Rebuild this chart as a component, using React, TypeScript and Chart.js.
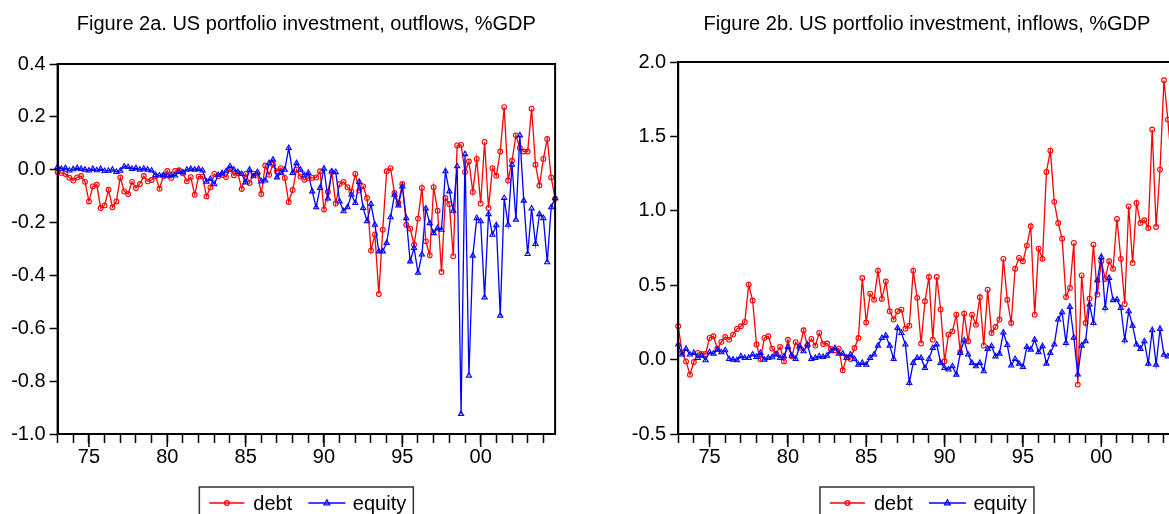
import React, { useEffect, useRef } from 'react';
import { Chart, registerables } from 'chart.js';

Chart.register(...registerables);

// ---------------- data ----------------
const START_YEAR = 1973;
const N_QUARTERS = 128; // 1973Q1 .. 2004Q4
const quarterLabels: string[] = Array.from({ length: N_QUARTERS }, (_, i) => `${START_YEAR + Math.floor(i / 4)}Q${(i % 4) + 1}`);
const yearTickLabels = ['75', '80', '85', '90', '95', '00'];

const outflowsDebt = [
  -0.009, -0.012, -0.016, -0.03, -0.041, -0.029, -0.024, -0.046, -0.12, -0.063,
  -0.057, -0.145, -0.135, -0.076, -0.142, -0.12, -0.029, -0.082, -0.092, -0.046,
  -0.069, -0.054, -0.024, -0.044, -0.039, -0.024, -0.072, -0.024, -0.005, -0.031,
  -0.005, -0.002, -0.014, -0.044, -0.028, -0.095, -0.026, -0.026, -0.101, -0.067,
  -0.016, -0.025, -0.02, -0.028, 0.003, -0.021, -0.012, -0.073, -0.016, -0.05,
  -0.015, -0.014, -0.092, 0.016, -0.019, 0.019, -0.006, 0.006, -0.031, -0.122,
  -0.077, 0.0, -0.026, -0.038, -0.031, -0.031, -0.029, -0.006, -0.151, -0.084,
  -0.009, -0.128, -0.054, -0.046, -0.066, -0.082, -0.016, -0.079, -0.063, -0.107,
  -0.306, -0.245, -0.47, -0.227, -0.006, 0.006, -0.088, -0.126, -0.054, -0.208,
  -0.223, -0.284, -0.185, -0.069, -0.271, -0.324, -0.066, -0.155, -0.387, -0.107,
  -0.13, -0.327, 0.092, 0.094, -0.009, 0.031, -0.084, 0.041, -0.128, 0.105,
  -0.145, 0.006, -0.023, 0.069, 0.237, -0.041, 0.034, 0.13, 0.082, 0.069,
  0.069, 0.231, 0.019, -0.06, 0.041, 0.116, -0.029, -0.11,
];

const outflowsEquity = [
  0.01, 0.003, 0.006, -0.003, 0.002, 0.006, 0.003, 0.0, -0.003, 0.003,
  -0.002, 0.003, -0.005, -0.004, 0.0, -0.008, -0.004, 0.012, 0.01, 0.003,
  0.006, 0.0, 0.004, 0.0, -0.003, -0.02, -0.022, -0.02, -0.025, -0.02,
  -0.022, -0.008, -0.01, 0.0, 0.003, 0.0, 0.003, -0.003, -0.045, -0.035,
  -0.055, -0.02, -0.013, -0.006, 0.013, 0.0, -0.009, -0.016, -0.048, 0.0,
  -0.025, -0.009, -0.044, -0.041, 0.025, 0.038, -0.029, -0.012, 0.0, 0.082,
  -0.012, 0.025, 0.0, -0.021, -0.012, -0.082, -0.142, -0.069, 0.004, -0.109,
  -0.006, -0.009, -0.12, -0.157, -0.142, -0.094, -0.126, -0.046, -0.145, -0.195,
  -0.13, -0.208, -0.309, -0.309, -0.277, -0.18, -0.095, -0.135, -0.063, -0.183,
  -0.347, -0.296, -0.39, -0.321, -0.147, -0.202, -0.24, -0.221, -0.227, -0.006,
  -0.082, -0.155, 0.013, -0.924, 0.059, -0.779, -0.325, -0.183, -0.195, -0.483,
  -0.168, -0.246, -0.21, -0.552, -0.107, -0.208, 0.019, -0.189, 0.13, -0.117,
  -0.319, -0.147, -0.281, -0.168, -0.183, -0.35, -0.142, -0.107,
];

const inflowsDebt = [
  0.224, 0.049, -0.012, -0.101, -0.016, 0.045, 0.038, 0.038, 0.146, 0.157,
  0.074, 0.119, 0.152, 0.134, 0.168, 0.206, 0.224, 0.253, 0.504, 0.397,
  0.101, 0.004, 0.146, 0.157, 0.074, 0.04, 0.085, -0.012, 0.134, 0.022,
  0.117, 0.079, 0.197, 0.094, 0.139, 0.094, 0.179, 0.105, 0.108, 0.072,
  0.063, 0.074, -0.072, 0.015, 0.004, 0.078, 0.145, 0.548, 0.25, 0.443,
  0.403, 0.598, 0.408, 0.526, 0.325, 0.269, 0.325, 0.336, 0.208, 0.228,
  0.598, 0.415, 0.108, 0.392, 0.555, 0.134, 0.555, 0.336, -0.011, 0.168,
  0.19, 0.302, 0.05, 0.309, 0.123, 0.302, 0.235, 0.419, 0.094, 0.47,
  0.179, 0.219, 0.269, 0.677, 0.403, 0.246, 0.611, 0.683, 0.661, 0.766,
  0.896, 0.302, 0.746, 0.677, 1.261, 1.404, 1.06, 0.918, 0.813, 0.421,
  0.482, 0.784, -0.168, 0.566, 0.246, 0.41, 0.773, 0.437, 0.661, 0.542,
  0.661, 0.611, 0.945, 0.677, 0.374, 1.03, 0.649, 1.052, 0.918, 0.936,
  0.885, 1.546, 0.891, 1.277, 1.877, 1.613, 1.3, 1.45,
];

const inflowsEquity = [
  0.101, 0.034, 0.072, 0.034, 0.045, 0.011, 0.027, -0.004, 0.049, 0.04,
  0.067, 0.049, 0.063, 0.004, 0.0, -0.004, 0.022, 0.011, 0.011, 0.034,
  0.018, 0.045, 0.0, 0.011, 0.016, 0.034, 0.011, 0.022, 0.085, 0.027,
  0.004, 0.09, 0.056, 0.101, 0.004, 0.011, 0.022, 0.018, 0.027, 0.056,
  0.078, 0.04, 0.04, 0.011, 0.034, 0.004, -0.034, -0.022, -0.034, 0.011,
  0.034, 0.094, 0.145, 0.161, 0.094, 0.004, 0.213, 0.179, 0.101, -0.157,
  -0.022, 0.011, 0.011, -0.056, 0.004, 0.078, 0.101, -0.022, -0.056, -0.067,
  -0.045, -0.101, 0.045, 0.13, 0.034, -0.022, -0.045, -0.022, -0.078, 0.072,
  0.09, 0.022, 0.04, 0.182, 0.098, -0.04, 0.004, -0.027, -0.049, 0.085,
  0.067, 0.134, 0.05, 0.09, -0.027, 0.045, 0.101, 0.269, 0.318, 0.112,
  0.354, 0.148, -0.1, 0.094, 0.123, 0.37, 0.246, 0.533, 0.69, 0.347,
  0.549, 0.4, 0.404, 0.347, 0.13, 0.325, 0.228, 0.101, 0.072, 0.123,
  -0.027, 0.197, -0.034, 0.206, 0.033, 0.022, 0.05, 0.04,
];

// ---------------- styling ----------------
const RED = '#FF0000';
const BLUE = '#0000FF';
const FONT_FAMILY = '"Liberation Sans", Arial, Helvetica, sans-serif';
const CANVAS_W = 600;
const CANVAS_H = 514;

function yearOf(i: number) {
  return START_YEAR + Math.floor(i / 4);
}
function isYearStart(i: number) {
  return i % 4 === 0;
}
function isMajor(i: number) {
  return isYearStart(i) && yearOf(i) % 5 === 0;
}
function tickLabel(i: number) {
  if (!isMajor(i)) return '';
  const s = String(yearOf(i) % 100).padStart(2, '0');
  return yearTickLabels.includes(s) ? s : '';
}

type Area = { left: number; right: number; top: number; bottom: number };

function decorPlugin(title: string) {
  return {
    id: 'decor',
    afterDraw(chart: any) {
      const { ctx, chartArea } = chart;
      const { left, right, top, bottom } = chartArea;
      const cx = (left + right) / 2;
      ctx.save();
      // frame
      ctx.strokeStyle = '#000';
      ctx.lineWidth = 2;
      ctx.strokeRect(left, top, right - left, bottom - top);
      // major tick extension
      const xs = chart.scales.x;
      ctx.lineWidth = 1.5;
      for (let i = 0; i < N_QUARTERS; i++) {
        if (isMajor(i)) {
          const x = xs.getPixelForTick(i);
          ctx.beginPath();
          ctx.moveTo(x, bottom);
          ctx.lineTo(x, bottom + 13);
          ctx.stroke();
        }
      }
      // title
      ctx.fillStyle = '#000';
      ctx.font = `20px ${FONT_FAMILY}`;
      ctx.textAlign = 'center';
      ctx.textBaseline = 'alphabetic';
      ctx.fillText(title, cx, 30);
      // legend
      const boxTop = 487;
      ctx.strokeStyle = '#333';
      ctx.lineWidth = 1.5;
      ctx.strokeRect(cx - 107, boxTop, 214, 60);
      const ly = 503;
      // debt entry
      ctx.strokeStyle = RED;
      ctx.lineWidth = 1.3;
      ctx.beginPath();
      ctx.moveTo(cx - 97, ly);
      ctx.lineTo(cx - 62, ly);
      ctx.stroke();
      ctx.beginPath();
      ctx.arc(cx - 79.5, ly, 2.3, 0, Math.PI * 2);
      ctx.stroke();
      // equity entry
      ctx.strokeStyle = BLUE;
      ctx.beginPath();
      ctx.moveTo(cx + 2, ly);
      ctx.lineTo(cx + 39, ly);
      ctx.stroke();
      ctx.beginPath();
      ctx.moveTo(cx + 20.5, ly - 3.2);
      ctx.lineTo(cx + 23.3, ly + 1.8);
      ctx.lineTo(cx + 17.7, ly + 1.8);
      ctx.closePath();
      ctx.stroke();
      ctx.fillStyle = '#000';
      ctx.textAlign = 'left';
      ctx.font = `20px ${FONT_FAMILY}`;
      ctx.fillText('debt', cx - 53, 510);
      ctx.fillText('equity', cx + 46.5, 510);
      ctx.restore();
    },
  };
}

type PanelProps = {
  left: number;
  title: string;
  debt: number[];
  equity: number[];
  yMin: number;
  yMax: number;
  yStep: number;
  area: Area;
};

function Panel({ left, title, debt, equity, yMin, yMax, yStep, area }: PanelProps) {
  const ref = useRef<HTMLCanvasElement | null>(null);
  useEffect(() => {
    const canvas = ref.current;
    if (!canvas) return;
    const tickFont = { family: FONT_FAMILY, size: 20 };
    const chart = new Chart(canvas, {
      type: 'line',
      data: {
        labels: quarterLabels,
        datasets: [
          {
            label: 'debt',
            data: debt,
            borderColor: RED,
            backgroundColor: RED,
            borderWidth: 1.3,
            pointStyle: 'circle',
            pointRadius: 2.4,
            pointBorderWidth: 1.1,
            pointBorderColor: RED,
            pointBackgroundColor: 'rgba(255,255,255,0)',
            tension: 0,
            order: 1,
          },
          {
            label: 'equity',
            data: equity,
            borderColor: BLUE,
            backgroundColor: BLUE,
            borderWidth: 1.3,
            pointStyle: 'triangle',
            pointRadius: 3,
            pointBorderWidth: 1.1,
            pointBorderColor: BLUE,
            pointBackgroundColor: 'rgba(255,255,255,0)',
            tension: 0,
            order: 0,
          },
        ],
      },
      options: {
        responsive: false,
        animation: false,
        devicePixelRatio: 1,
        events: [],
        layout: { padding: { left: 0, top: area.top, right: CANVAS_W - area.right, bottom: 0 } },
        plugins: {
          legend: { display: false },
          tooltip: { enabled: false },
          title: { display: false },
        },
        scales: {
          x: {
            type: 'category',
            offset: false,
            grid: {
              drawOnChartArea: false,
              drawTicks: true,
              tickLength: 9,
              tickWidth: 1.5,
              tickColor: (ctx: any) => (isYearStart(ctx.index) ? '#000' : 'rgba(0,0,0,0)'),
            },
            border: { display: true, color: '#000', width: 2 },
            ticks: {
              autoSkip: false,
              maxRotation: 0,
              minRotation: 0,
              padding: 2,
              color: '#000',
              font: tickFont,
              callback: (_v: any, i: number) => tickLabel(i),
            },
            afterFit: (s: any) => {
              s.height = CANVAS_H - area.bottom;
            },
          },
          y: {
            min: yMin,
            max: yMax,
            grid: { drawOnChartArea: false, drawTicks: true, tickLength: 8, tickWidth: 1.5, tickColor: '#000' },
            border: { display: true, color: '#000', width: 2 },
            ticks: {
              stepSize: yStep,
              padding: 4,
              color: '#000',
              font: tickFont,
              callback: (v: any) => {
                const n = Math.abs(Number(v)) < 1e-9 ? 0 : Number(v);
                return n.toFixed(1);
              },
            },
            afterFit: (s: any) => {
              s.width = area.left;
            },
          },
        },
      },
      plugins: [decorPlugin(title)],
    } as any);
    return () => chart.destroy();
  }, []);
  return (
    <canvas
      ref={ref}
      width={CANVAS_W}
      height={CANVAS_H}
      style={{ position: 'absolute', left, top: 0, width: CANVAS_W, height: CANVAS_H }}
    />
  );
}

export default function App() {
  return (
    <div
      style={{
        position: 'fixed',
        left: 0,
        top: 0,
        width: 1169,
        height: 514,
        overflow: 'hidden',
        background: '#fff',
      }}
    >
      <Panel
        left={0}
        title="Figure 2a. US portfolio investment, outflows, %GDP"
        debt={outflowsDebt}
        equity={outflowsEquity}
        yMin={-1.0}
        yMax={0.4}
        yStep={0.2}
        area={{ left: 57.6, right: 555.1, top: 64, bottom: 434 }}
      />
      <Panel
        left={600}
        title="Figure 2b. US portfolio investment, inflows, %GDP"
        debt={inflowsDebt}
        equity={inflowsEquity}
        yMin={-0.5}
        yMax={2.0}
        yStep={0.5}
        area={{ left: 78.2, right: 575.7, top: 62, bottom: 434 }}
      />
    </div>
  );
}
